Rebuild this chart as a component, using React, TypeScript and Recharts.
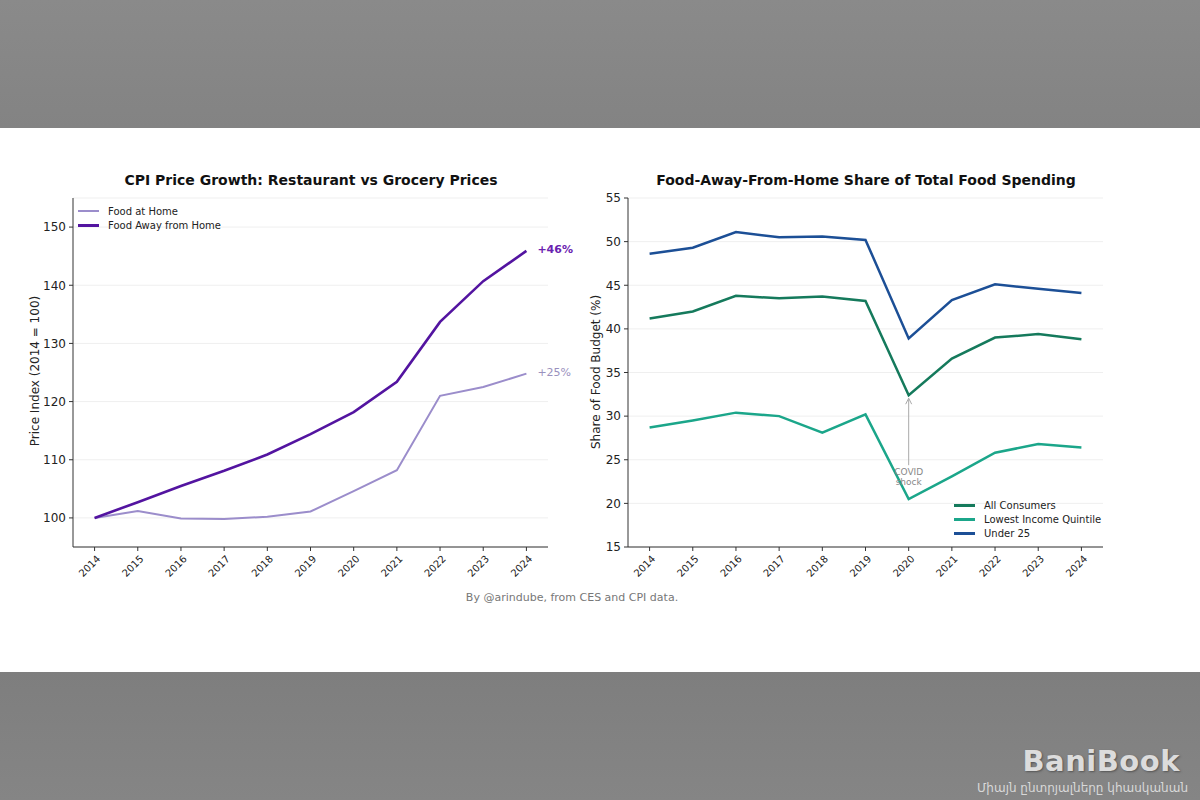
import React from "react";
import { LineChart, Line, XAxis, YAxis, CartesianGrid, Legend } from "recharts";

const years = [2014, 2015, 2016, 2017, 2018, 2019, 2020, 2021, 2022, 2023, 2024];

// CPI, 2014 = 100
const foodAtHome = [100, 101.2, 99.9, 99.8, 100.2, 101.1, 104.6, 108.2, 121.0, 122.5, 124.8];
const foodAwayFromHome = [100, 102.7, 105.5, 108.1, 110.9, 114.4, 118.2, 123.4, 133.7, 140.7, 145.9];
const cpiTicks = [100, 110, 120, 130, 140, 150];

// share of food budget spent away from home (%)
const allConsumers = [41.2, 42.0, 43.8, 43.5, 43.7, 43.2, 32.4, 36.6, 39.0, 39.4, 38.8];
const lowestQuintile = [28.7, 29.5, 30.4, 30.0, 28.1, 30.2, 20.5, 23.1, 25.8, 26.8, 26.4];
const under25 = [48.6, 49.3, 51.1, 50.5, 50.6, 50.2, 38.9, 43.3, 45.1, 44.6, 44.1];
const shareTicks = [15, 20, 25, 30, 35, 40, 45, 50, 55];

const FONT = '"DejaVu Sans", Verdana, sans-serif';
const AXIS = "#333";

const cpiData = years.map((year, i) => ({ year, home: foodAtHome[i], away: foodAwayFromHome[i] }));
const shareData = years.map((year, i) => ({
  year,
  all: allConsumers[i],
  low: lowestQuintile[i],
  young: under25[i],
}));

const YearTick = (props: any) => {
  const { x, y, payload } = props;
  return (
    <g transform={`translate(${x + 4},${y + 4}) rotate(-45)`}>
      <text x={0} y={0} dy="0.35em" textAnchor="end" fontSize={10} fill="#222" fontFamily={FONT}>
        {payload.value}
      </text>
    </g>
  );
};

const endLabel = (color: string, bold: boolean) => (props: any) => {
  const { x, y, index, value } = props;
  if (index !== years.length - 1) return null;
  return (
    <text
      x={x + 11}
      y={y - 2}
      dy="0.35em"
      fill={color}
      fontSize={11}
      fontWeight={bold ? "bold" : "normal"}
      fontFamily={FONT}
    >
      {`+${Math.round(value - 100)}%`}
    </text>
  );
};

const covidLabel = (props: any) => {
  const { x, y, index } = props;
  if (years[index] !== 2020) return null;
  return (
    <g>
      <line x1={x} y1={y + 4} x2={x} y2={y + 70} stroke="#aaa" strokeWidth={1} />
      <path d={`M${x - 3},${y + 9} L${x},${y + 3} L${x + 3},${y + 9}`} fill="none" stroke="#aaa" strokeWidth={1} />
      <text x={x} y={y + 80} textAnchor="middle" fontSize={9} fill="#888" fontFamily={FONT}>
        COVID
      </text>
      <text x={x} y={y + 90} textAnchor="middle" fontSize={9} fill="#888" fontFamily={FONT}>
        shock
      </text>
    </g>
  );
};

// legend drawn in series order, with the line width of each series
const legendContent = (order: string[], widths: Record<string, number>) => (props: any) => {
  const items = [...(props.payload || [])].sort(
    (a: any, b: any) => order.indexOf(a.value) - order.indexOf(b.value)
  );
  return (
    <div style={{ fontFamily: FONT, fontSize: 10, color: "#222" }}>
      {items.map((p: any) => (
        <div key={p.value} style={{ display: "flex", alignItems: "center", height: 14 }}>
          <span
            style={{
              display: "inline-block",
              width: 21,
              height: widths[p.value] || 2,
              background: p.color,
              marginRight: 9,
            }}
          />
          {p.value}
        </div>
      ))}
    </div>
  );
};

const title: React.CSSProperties = {
  position: "absolute",
  fontFamily: FONT,
  fontWeight: "bold",
  fontSize: 14,
  color: "#111",
  whiteSpace: "nowrap",
  transform: "translate(-50%, -50%)",
};

const yLabel: React.CSSProperties = {
  position: "absolute",
  fontFamily: FONT,
  fontSize: 12,
  color: "#222",
  whiteSpace: "nowrap",
  transform: "translate(-50%, -50%) rotate(-90deg)",
};

export default function App() {
  return (
    <div
      style={{
        position: "absolute",
        left: 0,
        top: 0,
        width: 1200,
        height: 800,
        background: "#fff",
        overflow: "hidden",
      }}
    >
      <div style={{ position: "absolute", left: 0, top: 0, width: 1200, height: 128, background: "linear-gradient(#8a8a8a, #838383)" }} />
      <div style={{ position: "absolute", left: 0, top: 672, width: 1200, height: 128, background: "linear-gradient(#7e7e7e, #858585)" }} />

      <div style={{ ...title, left: 311, top: 180 }}>CPI Price Growth: Restaurant vs Grocery Prices</div>
      <div style={{ ...yLabel, left: 35, top: 371 }}>Price Index (2014 = 100)</div>

      <div style={{ position: "absolute", left: 0, top: 128 }}>
        <LineChart width={580} height={500} data={cpiData} margin={{ top: 70, right: 32, bottom: 31, left: 33 }}>
          <CartesianGrid vertical={false} stroke="#efefef" />
          <XAxis
            dataKey="year"
            type="number"
            domain={[2013.5, 2024.5]}
            ticks={years}
            height={50}
            tick={<YearTick />}
            tickSize={4}
            stroke={AXIS}
            interval={0}
          />
          <YAxis
            type="number"
            domain={[95, 155]}
            ticks={cpiTicks}
            width={40}
            tickSize={4}
            tickMargin={3}
            stroke={AXIS}
            tick={{ fontSize: 12, fill: "#222", fontFamily: FONT }}
          />
          <Legend
            layout="vertical"
            align="center"
            verticalAlign="middle"
            wrapperStyle={{ left: 78, top: 76, width: "auto" }}
            content={legendContent(["Food at Home", "Food Away from Home"], {
              "Food at Home": 2,
              "Food Away from Home": 3,
            })}
          />
          <Line
            dataKey="home"
            name="Food at Home"
            stroke="#9b8dcb"
            strokeWidth={2}
            dot={false}
            isAnimationActive={false}
            label={endLabel("#9a91be", false)}
          />
          <Line
            dataKey="away"
            name="Food Away from Home"
            stroke="#5314a0"
            strokeWidth={2.6}
            dot={false}
            isAnimationActive={false}
            label={endLabel("#6a22b0", true)}
          />
        </LineChart>
      </div>

      <div style={{ ...title, left: 866, top: 180 }}>Food-Away-From-Home Share of Total Food Spending</div>
      <div style={{ ...yLabel, left: 596, top: 372 }}>Share of Food Budget (%)</div>

      <div style={{ position: "absolute", left: 580, top: 128 }}>
        <LineChart width={540} height={500} data={shareData} margin={{ top: 70, right: 17, bottom: 31, left: 8 }}>
          <CartesianGrid vertical={false} stroke="#efefef" />
          <XAxis
            dataKey="year"
            type="number"
            domain={[2013.5, 2024.5]}
            ticks={years}
            height={50}
            tick={<YearTick />}
            tickSize={4}
            stroke={AXIS}
            interval={0}
          />
          <YAxis
            type="number"
            domain={[15, 55]}
            ticks={shareTicks}
            width={40}
            tickSize={4}
            tickMargin={3}
            stroke={AXIS}
            tick={{ fontSize: 12, fill: "#222", fontFamily: FONT }}
          />
          <Legend
            layout="vertical"
            align="center"
            verticalAlign="middle"
            wrapperStyle={{ left: 374, top: 370, width: "auto" }}
            content={legendContent(["All Consumers", "Lowest Income Quintile", "Under 25"], {
              "All Consumers": 3,
              "Lowest Income Quintile": 3,
              "Under 25": 3,
            })}
          />
          <Line
            dataKey="all"
            name="All Consumers"
            stroke="#157a5c"
            strokeWidth={2.5}
            dot={false}
            isAnimationActive={false}
            label={covidLabel}
          />
          <Line
            dataKey="low"
            name="Lowest Income Quintile"
            stroke="#1ba68a"
            strokeWidth={2.5}
            dot={false}
            isAnimationActive={false}
          />
          <Line
            dataKey="young"
            name="Under 25"
            stroke="#1c4f96"
            strokeWidth={2.5}
            dot={false}
            isAnimationActive={false}
          />
        </LineChart>
      </div>

      <div
        style={{
          position: "absolute",
          left: 572,
          top: 597,
          transform: "translate(-50%, -50%)",
          fontFamily: FONT,
          fontSize: 11,
          color: "#777",
          whiteSpace: "nowrap",
        }}
      >
        By @arindube, from CES and CPI data.
      </div>

      <div
        style={{
          position: "absolute",
          right: 20,
          top: 744,
          fontFamily: FONT,
          fontWeight: "bold",
          fontSize: 29,
          lineHeight: "34px",
          color: "#dcdcdc",
          textShadow: "1px 1px 2px #555",
          letterSpacing: 0.5,
        }}
      >
        BaniBook
      </div>
      <div
        style={{
          position: "absolute",
          right: 12,
          top: 781,
          fontFamily: FONT,
          fontSize: 12,
          lineHeight: "15px",
          color: "#d8d8d8",
          whiteSpace: "nowrap",
        }}
      >
        Միայն ընտրյալները կհասկանան
      </div>
    </div>
  );
}
